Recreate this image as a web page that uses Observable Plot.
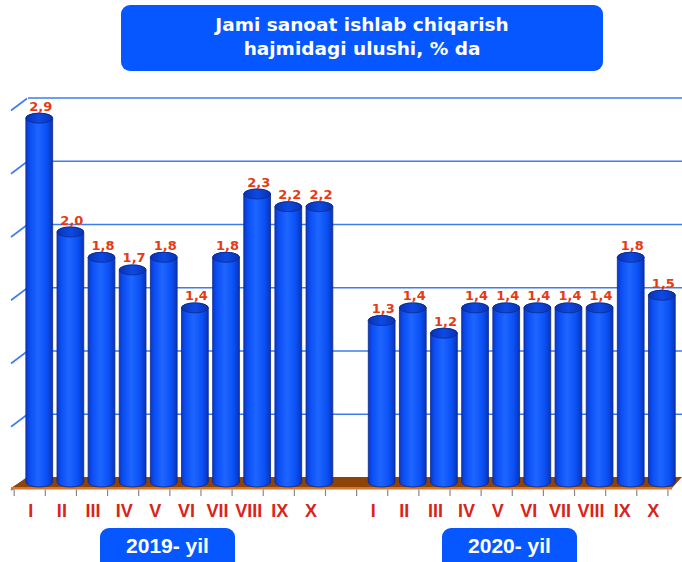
<!DOCTYPE html>
<html>
<head>
<meta charset="utf-8">
<script src="https://cdn.jsdelivr.net/npm/d3@7"></script>
<script src="https://cdn.jsdelivr.net/npm/@observablehq/plot@0.6"></script>
<style>
  html, body { margin: 0; padding: 0; background: #fff; }
  body { font-family: "Liberation Sans", Arial, sans-serif; }
  #wrap { position: relative; width: 682px; height: 562px; overflow: hidden; }
  .box { position: absolute; background: #0657ff; color: #fff; font-weight: bold; text-align: center; border-radius: 9px; box-sizing: border-box; }
  #title { left: 121px; top: 5px; width: 482px; height: 66px; font-family: "DejaVu Sans", Verdana, sans-serif; font-size: 18.5px; line-height: 24px; padding-top: 8px; }
  .year { top: 528px; width: 135px; height: 44px; font-size: 21px; line-height: 34px; padding-top: 1px; }
  #chart { position: absolute; left: 0; top: 76px; }
</style>
</head>
<body>
<div id="wrap">
  <div id="title" class="box">Jami sanoat ishlab chiqarish<br>hajmidagi ulushi, % da</div>
  <div id="chart"></div>
  <div id="y2019" class="box year" style="left:100px"></div>
  <div id="y2020" class="box year" style="left:442px"></div>
</div>
<script>
const months = ["I", "II", "III", "IV", "V", "VI", "VII", "VIII", "IX", "X"];
const values2019 = [2.9, 2.0, 1.8, 1.7, 1.8, 1.4, 1.8, 2.3, 2.2, 2.2];
const values2020 = [1.3, 1.4, 1.2, 1.4, 1.4, 1.4, 1.4, 1.4, 1.8, 1.5];
const yearLabels = ["2019- yil", "2020- yil"];
const gridTicks = [0.5, 1, 1.5, 2, 2.5, 3];

document.getElementById("y2019").textContent = yearLabels[0];
document.getElementById("y2020").textContent = yearLabels[1];

const data = [
  ...months.map((m, i) => ({key: "2019-" + m, month: m, value: values2019[i]})),
  ...months.map((m, i) => ({key: "2020-" + m, month: m, value: values2020[i]}))
];
const domain = [...months.map(m => "2019-" + m), "gap", ...months.map(m => "2020-" + m)];
const PAD = 0.14;
const fmt = v => v.toFixed(1).replace(".", ",");

function gradientDefs() {
  const defs = d3.create("svg:defs");
  const g = defs.append("linearGradient").attr("id", "barGrad")
    .attr("x1", "0").attr("x2", "1").attr("y1", "0").attr("y2", "0");
  [["0%", "#0a38c4"], ["15%", "#0a4ef5"], ["45%", "#1e66ff"], ["78%", "#0a50f5"], ["100%", "#0a34b4"]]
    .forEach(([o, c]) => g.append("stop").attr("offset", o).attr("stop-color", c));
  const c = defs.append("linearGradient").attr("id", "capGrad")
    .attr("x1", "0").attr("x2", "1").attr("y1", "0").attr("y2", "0");
  [["0%", "#0a32b0"], ["50%", "#0c4ae4"], ["100%", "#0a32b0"]]
    .forEach(([o, col]) => c.append("stop").attr("offset", o).attr("stop-color", col));
  return defs.node();
}

function floorMark(index, scales, values, dims) {
  const {x, y} = scales;
  const y0 = y(0);
  const g = d3.create("svg:g");
  // left diagonal axis ticks
  [0, ...gridTicks].forEach(v => {
    const yy = y(v);
    g.append("line").attr("x1", 11).attr("y1", yy + 5).attr("x2", 27).attr("y2", yy - 7)
      .attr("stroke", "#3d7bf2").attr("stroke-width", 1.6);
  });
  // floor
  g.append("polygon")
    .attr("points", `28,${y0 - 8} ${dims.width},${y0 - 8} ${dims.width - 10},${y0 + 3} 11,${y0 + 3}`)
    .attr("fill", "#8e4308");
  g.append("rect").attr("x", 11).attr("y", y0 + 2).attr("width", dims.width - 21).attr("height", 2.5)
    .attr("fill", "#d8762a");
  // bottom ticks at slot boundaries (front plane)
  const step = x(domain[1]) - x(domain[0]);
  const bounds = domain.map(k => x(k) - step * PAD / 2);
  bounds.push(bounds[bounds.length - 1] + step);
  bounds.forEach(b => {
    g.append("line").attr("x1", b - 9.5).attr("x2", b - 9.5).attr("y1", y0 + 4.5).attr("y2", y0 + 11)
      .attr("stroke", "#888").attr("stroke-width", 1.2);
  });
  return g.node();
}

const chart = Plot.plot({
  width: 682,
  height: 450,
  marginLeft: 28,
  marginRight: 0,
  marginTop: 29.5,
  marginBottom: 41,
  style: {fontFamily: "'Liberation Sans', Arial, sans-serif", background: "transparent", overflow: "visible"},
  x: {domain, range: [21.5, 679.6], padding: PAD, round: false, axis: null},
  y: {domain: [0, 3], range: [409, 29.5], axis: null},
  marks: [
    gradientDefs,
    Plot.ruleY(gridTicks, {dy: -8, stroke: "#3d7bf2", strokeWidth: 1.6}),
    floorMark,
    Plot.barY(data, {x: "key", y1: 0, y2: "value", fill: "url(#barGrad)", stroke: "#0a2a90", strokeWidth: 0.8,
      rx: 13.5, ry: 5, insetTop: -5, insetBottom: -2}),
    Plot.barY(data, {x: "key", y1: "value", y2: "value", fill: "url(#capGrad)", stroke: "#0a2a90", strokeWidth: 0.8,
      rx: 13.5, ry: 5, insetTop: -5, insetBottom: -5}),
    Plot.text(data, {x: "key", y: "value", text: d => fmt(d.value), dy: -8, dx: 1, lineAnchor: "bottom",
      fill: "#e63a14", fontSize: 13, fontWeight: "bold", fontFamily: "'DejaVu Sans', Verdana, sans-serif"}),
    Plot.text(data, {x: "key", y: 0, text: "month", dy: 26, dx: -9,
      fill: "#d9241a", fontSize: 18, fontWeight: "bold"})
  ]
});
document.getElementById("chart").appendChild(chart);
</script>
</body>
</html>
